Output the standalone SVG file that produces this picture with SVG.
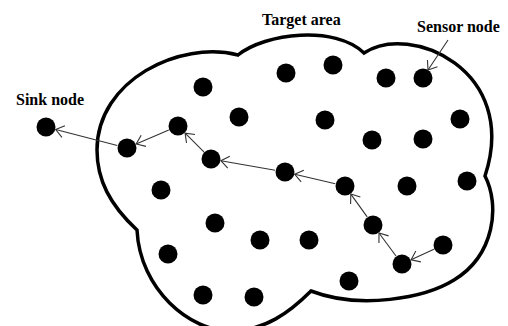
<svg xmlns="http://www.w3.org/2000/svg" width="508" height="326" viewBox="0 0 508 326">
<style>
.area{fill:none;stroke:#000;stroke-width:3.5;stroke-linejoin:miter}
.node{fill:#000}
.link{stroke:#333;stroke-width:1.1;fill:none;marker-end:url(#arr)}
.lbl{font-family:"Liberation Serif","Times New Roman",serif;font-weight:bold;font-size:16px;fill:#000}
</style>
<defs>
<marker id="arr" markerUnits="userSpaceOnUse" viewBox="-12 -8 14 16" refX="0" refY="0" markerWidth="14" markerHeight="16" orient="auto" overflow="visible">
<path d="M-8,-6 L0,0 L-8,6" fill="none" stroke="#333" stroke-width="1.1"/>
</marker>
</defs>
<rect width="508" height="326" fill="#fff"/>
<g id="target-area">
<path class="area" d="M238,55 C265,33 335,25 364,53 C410,22 520,70 485,176 C500,205 495,255 454,280 C425,298 360,310 311,291 C290,312 265,331 230,331 C190,331 140,290 137,230 C110,205 97,180 97,150 C97,80 180,40 238,55 Z"/>
</g>
<g id="labels">
<text class="lbl" x="262" y="25">Target area</text>
<text class="lbl" x="417" y="32">Sensor node</text>
<text class="lbl" x="16" y="105">Sink node</text>
</g>
<g id="nodes">
<circle id="sink" class="node" cx="46" cy="127" r="9.5"/>
<circle id="n2" class="node" cx="127" cy="148" r="9.5"/>
<circle id="n3" class="node" cx="178" cy="126" r="9.5"/>
<circle id="n4" class="node" cx="203" cy="87" r="9.5"/>
<circle id="n5" class="node" cx="239" cy="117" r="9.5"/>
<circle id="n6" class="node" cx="211" cy="159" r="9.5"/>
<circle id="n7" class="node" cx="286" cy="73" r="9.5"/>
<circle id="n8" class="node" cx="333" cy="65" r="9.5"/>
<circle id="n9" class="node" cx="325" cy="120" r="9.5"/>
<circle id="n10" class="node" cx="386" cy="78" r="9.5"/>
<circle id="n11" class="node" cx="423" cy="78" r="9.5"/>
<circle id="n12" class="node" cx="372" cy="140" r="9.5"/>
<circle id="n13" class="node" cx="423" cy="139" r="9.5"/>
<circle id="n14" class="node" cx="460" cy="119" r="9.5"/>
<circle id="n15" class="node" cx="285" cy="172" r="9.5"/>
<circle id="n16" class="node" cx="345" cy="186" r="9.5"/>
<circle id="n17" class="node" cx="407" cy="186" r="9.5"/>
<circle id="n18" class="node" cx="467" cy="181" r="9.5"/>
<circle id="n19" class="node" cx="161" cy="190" r="9.5"/>
<circle id="n20" class="node" cx="215" cy="223" r="9.5"/>
<circle id="n21" class="node" cx="260" cy="240" r="9.5"/>
<circle id="n22" class="node" cx="309" cy="240" r="9.5"/>
<circle id="n23" class="node" cx="373" cy="225" r="9.5"/>
<circle id="n24" class="node" cx="443" cy="245" r="9.5"/>
<circle id="n25" class="node" cx="402" cy="264" r="9.5"/>
<circle id="n26" class="node" cx="168" cy="254" r="9.5"/>
<circle id="n27" class="node" cx="349" cy="281" r="9.5"/>
<circle id="n28" class="node" cx="203" cy="295" r="9.5"/>
<circle id="n29" class="node" cx="254" cy="297" r="9.5"/>
</g>
<g id="connectors">
<line class="link" x1="433.9" y1="249.2" x2="411.1" y2="259.8"/>
<line class="link" x1="396.0" y1="256.0" x2="379.0" y2="233.0"/>
<line class="link" x1="367.2" y1="216.9" x2="350.8" y2="194.1"/>
<line class="link" x1="335.3" y1="183.7" x2="294.7" y2="174.3"/>
<line class="link" x1="275.1" y1="170.3" x2="220.9" y2="160.7"/>
<line class="link" x1="203.9" y1="151.9" x2="185.1" y2="133.1"/>
<line class="link" x1="168.8" y1="130.0" x2="136.2" y2="144.0"/>
<line class="link" x1="117.3" y1="145.5" x2="55.7" y2="129.5"/>
<line class="link" x1="448" y1="40" x2="428" y2="70"/>
</g>
</svg>
